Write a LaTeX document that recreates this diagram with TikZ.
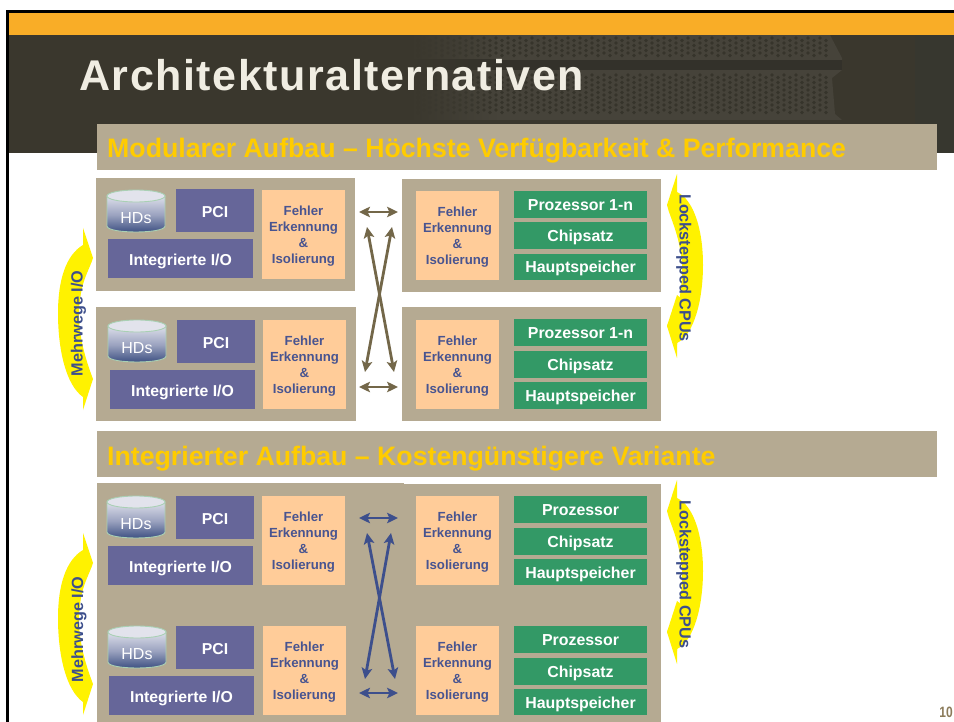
\documentclass[tikz,border=0pt]{standalone}
\usepackage{fontspec}
\setmainfont{Liberation Sans}
\usetikzlibrary{arrows.meta}
\definecolor{orangebar}{HTML}{F9AD27}
\definecolor{darkhead}{HTML}{3A372D}
\definecolor{grillec}{HTML}{46433A}
\definecolor{grilled}{HTML}{33312A}
\definecolor{grilledot}{HTML}{36342B}
\definecolor{headright}{HTML}{37372F}
\definecolor{titletxt}{HTML}{F0EDE2}
\definecolor{pagetxt}{HTML}{8B7B5A}
\definecolor{panelc}{HTML}{B5AA92}
\definecolor{bluetxt}{HTML}{485490}
\definecolor{purplebox}{HTML}{666699}
\definecolor{peach}{HTML}{FFCC99}
\definecolor{greenbox}{HTML}{339966}
\definecolor{linktan}{HTML}{736749}
\definecolor{linkblue}{HTML}{3D4F8C}
\definecolor{banner}{HTML}{FFCC00}
\definecolor{hdedge}{HTML}{A9D0B4}
\definecolor{hdtop}{HTML}{DDDFEA}
\definecolor{hdmid}{HTML}{9AA2BF}
\definecolor{hdbot}{HTML}{34487C}
\definecolor{hdlid}{HTML}{E2E3EC}
\tikzset{
  x=1pt,y=-1pt,
  plain/.style={inner sep=0pt,outer sep=0pt,anchor=north west},
  panel/.style={plain,fill=panelc},
  purple box/.style={plain,fill=purplebox,text=white,text height=14pt,text depth=0pt,font=\bfseries\fontsize{15.8}{18}\selectfont},
  green box/.style={plain,fill=greenbox,text=white,text height=12pt,text depth=0pt,font=\bfseries\fontsize{15.9}{18}\selectfont},
  peach box/.style={plain,fill=peach},
  peach text/.style={inner sep=0pt,yshift=-2pt,text=bluetxt,align=center,font=\bfseries\fontsize{13.2}{16}\selectfont},
  head title/.style={inner sep=0pt,anchor=base west,text=banner,font=\bfseries\fontsize{26.7}{30}\selectfont},
  side label/.style={inner sep=0pt,anchor=base,text=linkblue,font=\bfseries\fontsize{16.2}{18}\selectfont},
  link/.style={line width=2.8pt,{Stealth[length=11pt,width=10.5pt,inset=2.5pt]}-{Stealth[length=11pt,width=10.5pt,inset=2.5pt]}},
}
\newcommand\bx[7]{\node[#6,minimum width=\the\dimexpr #4pt-#2pt\relax,minimum height=\the\dimexpr #5pt-#3pt\relax] (#1) at (#2,#3) {#7};}
\newcommand\fehler[5]{\bx{#1}{#2}{#3}{#4}{#5}{peach box}{}\node[peach text] (#1t) at (#1.center) {Fehler\\Erkennung\\\&\\Isolierung};}
\newcommand\hdisk[3]{%
  \begin{scope}[shift={(#2,#3)}]
    \path[draw=hdedge,line width=.9pt,top color=hdtop,bottom color=hdbot,middle color=hdmid]
      (0,6) -- (0,36) .. controls (0,44) and (58,44) .. (58,36) -- (58,6) -- cycle;
    \path[draw=hdedge,line width=.9pt,fill=hdlid] (29,6) ellipse[x radius=29,y radius=6];
    \node[inner sep=0pt,text=white,font=\fontsize{16}{18}\selectfont] (#1) at (29,28.5) {HDs};
  \end{scope}}
\newcommand\leftcrescent[1]{%
  \fill[yellow,shift={(0,#1)}] (83,228) -- (93,258) .. controls (90,268) and (82,280) .. (80,300)
    .. controls (77,320) and (80,345) .. (93,379) -- (83,410) -- (83,397)
    .. controls (66,385) and (58,350) .. (58,313) .. controls (58,280) and (66,255) .. (83,245) -- cycle;}
\newcommand\rightcrescent[1]{%
  \fill[yellow,shift={(0,#1)}] (677,174) -- (667,205) .. controls (670,218) and (680,235) .. (682,265)
    .. controls (682,285) and (680,300) .. (677,308) .. controls (674,312) and (670,318) .. (667,326)
    -- (677,358) -- (677,343) .. controls (694,335) and (703,300) .. (703,265)
    .. controls (703,230) and (694,200) .. (677,192) -- cycle;
  \fill[yellow,shift={(0,#1)}] (677,295) -- (667,326) -- (677,345) -- (683,300) -- cycle;}
\begin{document}
\begin{tikzpicture}
\useasboundingbox (0,0) rectangle (954,722);
\fill[white] (0,0) rectangle (954,722);
% slide header
\fill[darkhead] (9,35) rectangle (954,153);
% server-front texture of the header
\shade[left color=darkhead,right color=grillec] (410,36) rectangle (500,60);
\shade[left color=darkhead,right color=grillec] (410,70) rectangle (500,120);
\fill[grillec] (500,35) -- (830,35) -- (842,58) -- (842,60) -- (500,60) -- cycle;
\fill[grillec] (500,70) -- (842,70) -- (832,78) -- (835,114) -- (842,120) -- (500,120) -- cycle;
\shade[left color=darkhead,right color=grilled] (410,60) rectangle (500,70);
\fill[grilled] (500,60) rectangle (842,70);
\fill[headright] (915,35) rectangle (954,153);
\foreach \i in {0,...,69}{
  \pgfmathsetmacro\px{412+6*\i}
  \pgfmathsetmacro\po{min(1,\i/14)}
  \pgfmathsetmacro\py{mod(\i,2)*2.5}
  \foreach \r in {38,43,...,53,75,80,...,110}{
    \fill[grilledot,opacity=\po] (\px,\r+\py) circle[radius=1.9];
  }
}
\fill[orangebar] (9,13) rectangle (954,35);
\fill[black] (6,10) rectangle (954,13);
\fill[black] (6,10) rectangle (9,722);
\node[inner sep=0pt,anchor=base west,text=titletxt,font=\bfseries\fontsize{43}{46}\selectfont] (title) at (79,91) {\addfontfeatures{LetterSpace=3.6}Architekturalternativen};
% banners
\bx{banA}{97}{124}{937}{170}{panel}{}
\node[head title] (banAt) at (107,158) {Modularer Aufbau – Höchste Verfügbarkeit \& Performance};
\bx{banB}{97}{431}{937}{477}{panel}{}
\node[head title] (banBt) at (107,465) {Integrierter Aufbau – Kostengünstigere Variante};
% yellow arrows
\leftcrescent{0}
\leftcrescent{305}
\rightcrescent{0}
\rightcrescent{306}
% modular panels
\bx{pa1}{96}{178}{355}{291}{panel}{}
\bx{pb1}{402}{179}{661}{292}{panel}{}
\bx{pa2}{96}{307}{356}{421}{panel}{}
\bx{pb2}{402}{307}{661}{421}{panel}{}
\hdisk{hd1}{107}{190}
\bx{pci1}{176}{189}{254}{232}{purple box}{PCI}
\bx{io1}{108}{239}{253}{278}{purple box}{Integrierte I/O}
\fehler{fa1}{262}{190}{345}{279}
\fehler{fb1}{416}{191}{499}{280}
\bx{pr1}{514}{191}{647}{218}{green box}{Prozessor 1-n}
\bx{ch1}{514}{222}{647}{249}{green box}{Chipsatz}
\bx{hs1}{514}{254}{647}{280}{green box}{Hauptspeicher}
\hdisk{hd2}{108}{320}
\bx{pci2}{177}{320}{255}{363}{purple box}{PCI}
\bx{io2}{110}{370}{255}{409}{purple box}{Integrierte I/O}
\fehler{fa2}{263}{320}{346}{409}
\fehler{fb2}{416}{320}{499}{409}
\bx{pr2}{514}{319}{647}{346}{green box}{Prozessor 1-n}
\bx{ch2}{514}{351}{647}{378}{green box}{Chipsatz}
\bx{hs2}{514}{382}{647}{409}{green box}{Hauptspeicher}
% modular links
\coordinate (a1l) at (359,212); \coordinate (a1r) at (398,212);
\coordinate (a2l) at (359,387); \coordinate (a2r) at (398,387);
\coordinate (c1a) at (367,227); \coordinate (c1b) at (394,372);
\coordinate (c2a) at (392,227); \coordinate (c2b) at (365,372);
\draw[link,linktan] (a1l) -- (a1r);
\draw[link,linktan] (a2l) -- (a2r);
\draw[link,linktan] (c1a) -- (c1b);
\draw[link,linktan] (c2a) -- (c2b);
% integrated panel
\bx{pc}{97}{484}{661}{722}{panel}{}
\bx{pcx}{97}{483}{404}{485}{panel}{}
\hdisk{hd3}{107}{496}
\bx{pci3}{176}{496}{254}{539}{purple box}{PCI}
\bx{io3}{108}{546}{253}{585}{purple box}{Integrierte I/O}
\fehler{fa3}{262}{496}{345}{585}
\fehler{fb3}{416}{496}{499}{585}
\bx{pr3}{514}{496}{647}{523}{green box}{Prozessor}
\bx{ch3}{514}{528}{647}{555}{green box}{Chipsatz}
\bx{hs3}{514}{559}{647}{585}{green box}{Hauptspeicher}
\hdisk{hd4}{108}{626}
\bx{pci4}{176}{626}{254}{669}{purple box}{PCI}
\bx{io4}{109}{676}{254}{715}{purple box}{Integrierte I/O}
\fehler{fa4}{263}{626}{346}{715}
\fehler{fb4}{416}{626}{499}{715}
\bx{pr4}{514}{626}{647}{653}{green box}{Prozessor}
\bx{ch4}{514}{658}{647}{685}{green box}{Chipsatz}
\bx{hs4}{514}{689}{647}{715}{green box}{Hauptspeicher}
% integrated links
\coordinate (b1l) at (359,518); \coordinate (b1r) at (398,518);
\coordinate (b2l) at (359,693); \coordinate (b2r) at (398,693);
\coordinate (d1a) at (367,533); \coordinate (d1b) at (395,679);
\coordinate (d2a) at (391,533); \coordinate (d2b) at (365,679);
\draw[link,linkblue] (b1l) -- (b1r);
\draw[link,linkblue] (b2l) -- (b2r);
\draw[link,linkblue] (d1a) -- (d1b);
\draw[link,linkblue] (d2a) -- (d2b);
% side labels
\node[side label,rotate=90] (mw1) at (82.7,323.5) {Mehrwege I/O};
\node[side label,rotate=90] (mw2) at (83.2,629.5) {Mehrwege I/O};
\node[side label,rotate=-90] (ls1) at (679.5,268) {Lockstepped CPUs};
\node[side label,rotate=-90] (ls2) at (679.5,574.5) {Lockstepped CPUs};
% page number
\node[inner sep=0pt,anchor=base east,text=pagetxt,font=\bfseries\fontsize{12}{14}\selectfont] (pageno) at (953,717) {\scalebox{1}[1.25]{10}};
\end{tikzpicture}
\end{document}
